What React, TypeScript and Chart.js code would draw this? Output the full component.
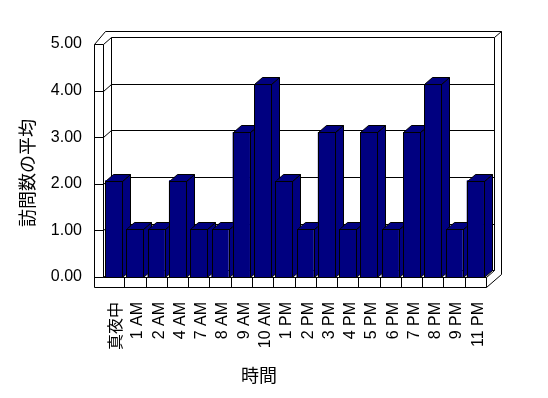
import React, { useEffect, useRef } from 'react';
import { Chart, registerables } from 'chart.js';

Chart.register(...registerables);

// ---- data ----
const categories = ['真夜中', '1 AM', '2 AM', '4 AM', '7 AM', '8 AM', '9 AM', '10 AM', '1 PM', '2 PM', '3 PM', '4 PM', '5 PM', '6 PM', '7 PM', '8 PM', '9 PM', '11 PM'];
const visitAverages = [2, 1, 1, 2, 1, 1, 3, 4, 2, 1, 3, 1, 3, 1, 3, 4, 1, 2];
const yTickValues = [0, 1, 2, 3, 4, 5];
const yAxisTitle = '訪問数の平均';
const xAxisTitle = '時間';

// ---- styling / geometry of the 3D frame ----
const BAR_COLOR = '#000080';
const LINE_COLOR = '#000000';
const GEOM = {
  wallDx: 8,
  wallDy: -6.8,
  leftWallT: 9,
  floorT: 9.5,
  backDx: 6.5,
  backDy: -5.8,
  barDx: 8,
  barDy: -7,
};
const LATIN_FONT = '"Liberation Sans", Arial, "Noto Sans CJK JP", sans-serif';
const CJK_FONT = '"Noto Sans CJK JP", "Noto Sans CJK SC", sans-serif';

const snap = (v: number) => Math.round(v) + 0.5;

const frame3D = {
  id: 'frame3D',
  beforeDatasetsDraw(chart: any) {
    const { ctx, chartArea } = chart;
    const ys = chart.scales.y;
    const xs = chart.scales.x;
    const g = GEOM;
    const L = chartArea.left;
    const R = chartArea.right;
    const yTop = ys.getPixelForValue(ys.max);
    const yBot = ys.getPixelForValue(ys.min);
    const line = (x1: number, y1: number, x2: number, y2: number) => {
      ctx.beginPath();
      ctx.moveTo(snap(x1), snap(y1));
      ctx.lineTo(snap(x2), snap(y2));
      ctx.stroke();
    };
    ctx.save();
    ctx.lineWidth = 1;
    ctx.strokeStyle = LINE_COLOR;
    // left wall front edge
    line(L - g.leftWallT, yTop, L - g.leftWallT, yBot + g.floorT);
    line(L, yTop, L, yBot);
    // ticks, side-wall diagonals and back-wall grid lines
    ys.ticks.forEach((t: any) => {
      const y = ys.getPixelForValue(t.value);
      line(L - g.leftWallT, y, L, y);
      line(L, y, L + g.wallDx, y + g.wallDy);
      line(L + g.wallDx, y + g.wallDy, R + g.wallDx, y + g.wallDy);
    });
    // back wall edges
    line(L + g.wallDx, yTop + g.wallDy, L + g.wallDx, yBot + g.wallDy);
    line(R + g.wallDx, yTop + g.wallDy, R + g.wallDx, yBot + g.wallDy);
    // outer silhouette (wall thickness)
    const oTop = yTop + g.wallDy + g.backDy;
    const oRight = R + g.wallDx + g.backDx;
    const oBot = yBot + g.floorT + g.wallDy + g.backDy;
    line(L - g.leftWallT, yTop, L - g.leftWallT + 11, oTop);
    line(L - g.leftWallT + 11, oTop, oRight, oTop);
    line(R + g.wallDx, yTop + g.wallDy, oRight, oTop);
    line(oRight, oTop, oRight, oBot);
    line(R, yBot + g.floorT, oRight, oBot);
    // floor
    line(L, yBot, R, yBot);
    line(L - g.leftWallT, yBot + g.floorT, R, yBot + g.floorT);
    line(R, yBot, R, yBot + g.floorT);
    line(R, yBot, R + g.wallDx, yBot + g.wallDy);
    for (let i = 1; i < categories.length; i++) {
      const x = xs.getPixelForValue(i - 0.5);
      line(x, yBot, x, yBot + g.floorT);
    }
    ctx.restore();
  },
  afterDatasetsDraw(chart: any) {
    const { ctx } = chart;
    const g = GEOM;
    const meta = chart.getDatasetMeta(0);
    const poly = (pts: number[][]) => {
      ctx.beginPath();
      pts.forEach((p, i) => (i ? ctx.lineTo(snap(p[0]), snap(p[1])) : ctx.moveTo(snap(p[0]), snap(p[1]))));
      ctx.closePath();
      ctx.fill();
      ctx.stroke();
    };
    ctx.save();
    ctx.lineWidth = 1;
    ctx.strokeStyle = LINE_COLOR;
    ctx.fillStyle = BAR_COLOR;
    meta.data.forEach((bar: any) => {
      const { x, y, base, width } = bar.getProps(['x', 'y', 'base', 'width'], true);
      const x0 = x - width / 2;
      const x1 = x + width / 2;
      ctx.fillStyle = BAR_COLOR;
      poly([[x1, y], [x1 + g.barDx, y + g.barDy], [x1 + g.barDx, base + g.barDy], [x1, base]]);
      poly([[x0, y], [x1, y], [x1 + g.barDx, y + g.barDy], [x0 + g.barDx, y + g.barDy]]);
      bar.draw(ctx);
      ctx.strokeStyle = LINE_COLOR;
      ctx.lineWidth = 1;
      ctx.strokeRect(snap(x0), snap(y), Math.round(x1) - Math.round(x0), Math.round(base) - Math.round(y));
    });
    ctx.restore();
  },
  afterDraw(chart: any) {
    const { ctx } = chart;
    ctx.save();
    ctx.fillStyle = '#000';
    ctx.font = `18px ${CJK_FONT}`;
    ctx.textAlign = 'center';
    ctx.textBaseline = 'middle';
    ctx.fillText(xAxisTitle, 259, 375);
    ctx.translate(27.5, 173);
    ctx.rotate(-Math.PI / 2);
    ctx.fillText(yAxisTitle, 0, 0);
    ctx.restore();
  },
};

export default function App() {
  const canvasRef = useRef<HTMLCanvasElement | null>(null);

  useEffect(() => {
    if (!canvasRef.current) return;
    const chart = new Chart(canvasRef.current, {
      type: 'bar',
      data: {
        labels: categories,
        datasets: [
          {
            data: visitAverages,
            yAxisID: 'y2',
            backgroundColor: BAR_COLOR,
            borderWidth: 0,
            barPercentage: 0.8,
            categoryPercentage: 1,
          },
        ],
      },
      options: {
        responsive: false,
        animation: false,
        events: [],
        layout: { padding: { top: 44, right: 62, bottom: 0, left: 0 } },
        plugins: { legend: { display: false }, tooltip: { enabled: false } },
        scales: {
          x: {
            type: 'category',
            grid: { display: false, drawTicks: false },
            border: { display: false },
            ticks: {
              autoSkip: false,
              minRotation: 90,
              maxRotation: 90,
              padding: 25,
              color: '#000',
              font: { family: LATIN_FONT, size: 16 },
              labelOffset: (c: any) => (c.index === 0 ? 0 : 3),
            },
            afterFit: (s: any) => {
              s.height = 121;
            },
          },
          y: {
            type: 'linear',
            position: 'left',
            min: 0,
            max: 5,
            grid: { display: false, drawTicks: false },
            border: { display: false },
            ticks: {
              padding: 21,
              color: '#000',
              font: { family: LATIN_FONT, size: 16 },
              callback: (v: any) => Number(v).toFixed(2),
            },
            afterBuildTicks: (s: any) => {
              s.ticks = yTickValues.map((v) => ({ value: v }));
            },
            afterFit: (s: any) => {
              s.width = 103;
            },
          },
          y2: {
            type: 'linear',
            display: false,
            min: 0,
            max: 4.83,
          },
        },
      },
      plugins: [frame3D],
    });
    return () => chart.destroy();
  }, []);

  return (
    <div style={{ position: 'fixed', left: 0, top: 0, width: 548, height: 398, background: '#fff' }}>
      <canvas ref={canvasRef} width={548} height={398} style={{ display: 'block', width: 548, height: 398 }} />
    </div>
  );
}
